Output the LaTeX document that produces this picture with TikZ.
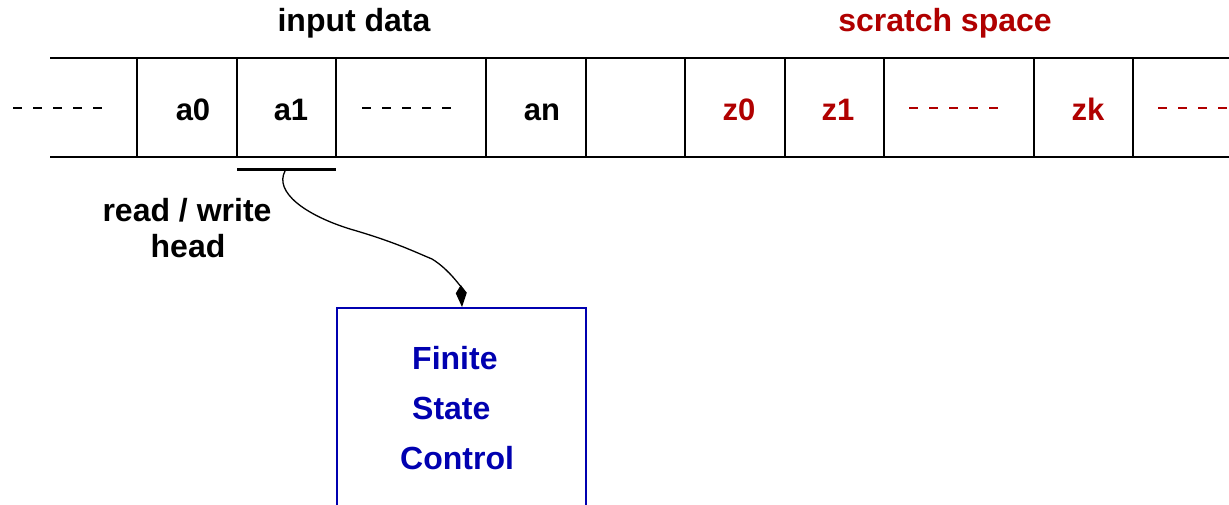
\documentclass[tikz,border=0pt]{standalone}
\usepackage{fontspec}
\setmainfont{Liberation Sans}
\usetikzlibrary{arrows.meta}
\definecolor{scr}{RGB}{176,0,0}
\definecolor{fsc}{RGB}{0,0,176}
\begin{document}
\begin{tikzpicture}[x=1pt,y=-1pt,
  lab/.style={font=\fontsize{32}{38}\selectfont\bfseries,inner sep=0pt},
  cell/.style={font=\fontsize{31}{36}\selectfont\bfseries,inner sep=0pt,anchor=base},
  tape/.style={line width=1.7pt},
  dots/.style={line width=1.2pt,dash pattern=on 9pt off 11pt}]
\useasboundingbox (0,0) rectangle (1229,505);
% tape
\draw[tape] (50,58) -- (1229,58);
\draw[tape] (50,157) -- (1229,157);
\foreach \x in {137,237,336,486,586,685,785,884,1034,1133}
  \draw[tape] (\x,58) -- (\x,157);
\draw[dots] (13,108) -- (105,108);
\draw[dots] (362,108) -- (454,108);
\draw[dots,scr] (909,108) -- (1001,108);
\draw[dots,scr] (1158,108) -- (1229,108);
% cell labels
\node[cell] (a0) at (193,121) {a0};
\node[cell] (a1) at (291,121) {a1};
\node[cell] (an) at (542,121) {an};
\node[cell,text=scr] (z0) at (739,121) {z0};
\node[cell,text=scr] (z1) at (838,121) {z1};
\node[cell,text=scr] (zk) at (1088,121) {zk};
% titles
\node[lab] (inp) at (354,23) {input data};
\node[lab,text=scr] (scr) at (945,23) {scratch space};
% head
\draw[line width=3pt] (237,170) -- (336,170);
\coordinate (hd) at (285,171);
\node[lab] (rw) at (187,210) {read / write};
\node[lab] (hdl) at (188,246) {head};
% control box
\node[draw=fsc,line width=1.5pt,minimum width=249pt,minimum height=240pt,inner sep=0pt,anchor=north west] (box) at (336,307) {};
\coordinate (tip) at (462,307);
\draw[line width=1.3pt,-{Kite[length=22pt,width=11pt,inset=8pt]}] (hd)
  .. controls (274,192) and (305,215) .. (350,229)
  .. controls (395,242) and (415,252) .. (432,259)
  .. controls (450,270) and (461,288) .. (tip);
\node[lab,text=fsc,anchor=west] (f1) at (412,358) {Finite};
\node[lab,text=fsc,anchor=west] (f2) at (412,408) {State};
\node[lab,text=fsc,anchor=west] (f3) at (400,458) {Control};
\end{tikzpicture}
\end{document}
